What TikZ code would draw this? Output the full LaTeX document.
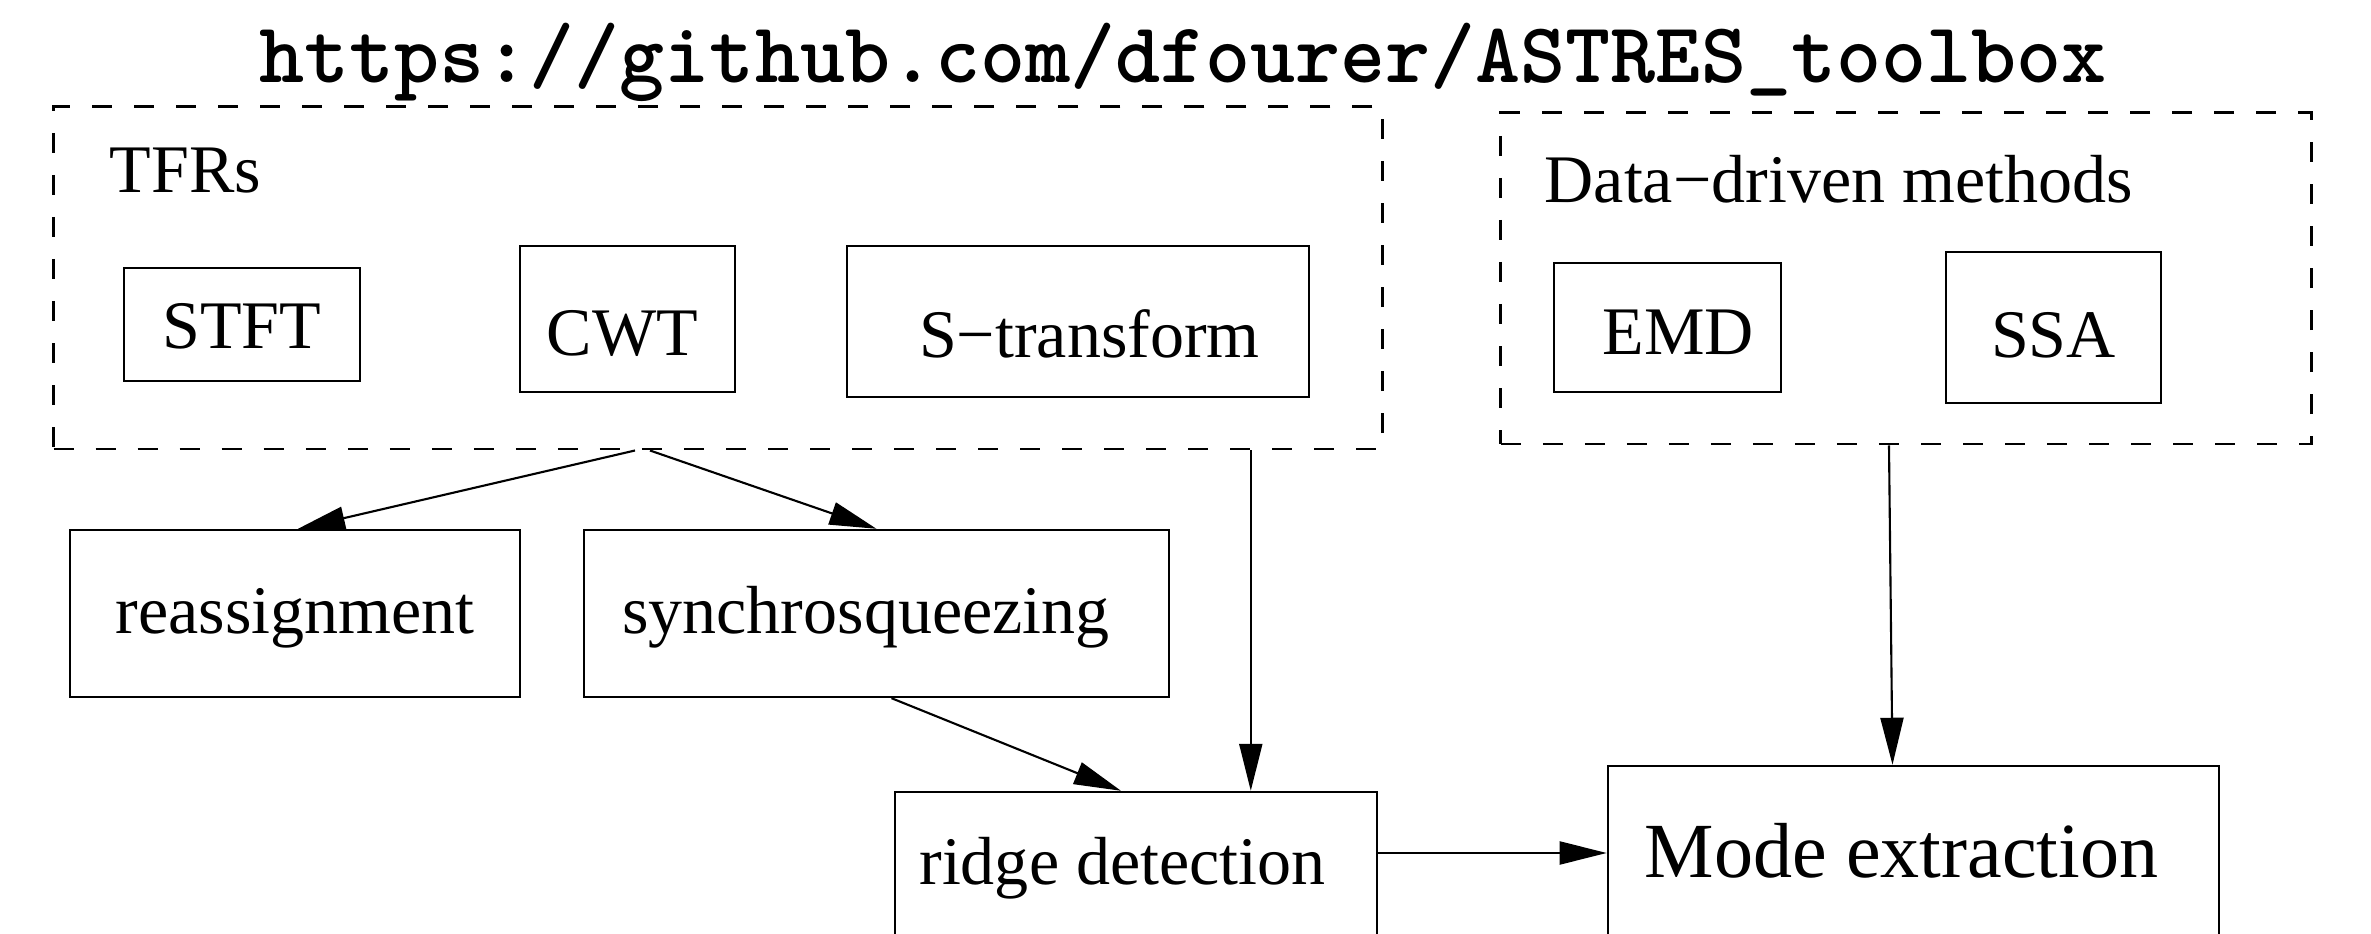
\documentclass[tikz,border=0pt]{standalone}
\usepackage{fontspec}
\setmainfont{Liberation Serif}
\usetikzlibrary{arrows.meta,calc}

\begin{document}
\begin{tikzpicture}[x = 0.01cm, y = -0.01cm]
  % styles
  \tikzstyle{box} = [draw, line width = 0.65pt, inner sep = 0pt, text height = 0.8cm,
    font = \fontsize{19.35pt}{23pt}\selectfont]
  \tikzstyle{group} = [draw, line width = 0.8pt, dash pattern = on 0.2cm off 0.22cm,
    inner sep = 0pt]
  \tikzstyle{grouplabel} = [anchor = base west, inner sep = 0pt,
    font = \fontsize{19.35pt}{23pt}\selectfont]
  \tikzstyle{flow} = [line width = 0.6pt, -{Triangle[length = 0.47cm, width = 0.23cm]}]

  % page
  \useasboundingbox (0, 0) rectangle (2371, 934);
  \clip (0, 0) rectangle (2371, 934);

  % title
  \node[anchor = base, inner sep = 0pt,
    font = \fontsize{24.4pt}{28pt}\selectfont\ttfamily\bfseries] (url) at (1183, 83)
    {https://github.com/dfourer/ASTRES\_toolbox};

  % time-frequency representations
  \node[group, minimum width = 13.28cm, minimum height = 3.42cm] (tfrs) at (718, 278) {};
  \node[grouplabel] (tfrslabel) at (109, 193) {TFRs};
  \node[box, minimum width = 2.36cm, minimum height = 1.13cm, text depth = 0.33cm]
    (stft) at (242, 324.5) {STFT};
  \node[box, minimum width = 2.15cm, minimum height = 1.46cm, text depth = 0.08cm]
    (cwt) at (627.5, 319) {CWT\hspace*{0.1cm}};
  \node[box, minimum width = 4.62cm, minimum height = 1.51cm, text depth = 0.09cm]
    (stransform) at (1078, 321.5) {\hspace*{0.23cm}S−transform};

  % data-driven methods
  \node[group, minimum width = 8.10cm, minimum height = 3.31cm] (data) at (1906, 278.5) {};
  \node[grouplabel] (datalabel) at (1544, 203) {Data−driven methods};
  \node[box, minimum width = 2.27cm, minimum height = 1.29cm, text depth = 0.27cm]
    (emd) at (1667.5, 327.5) {\hspace*{0.22cm}EMD};
  \node[box, minimum width = 2.15cm, minimum height = 1.51cm, text depth = 0.21cm]
    (ssa) at (2053.5, 327.5) {SSA};

  % post-processing
  \node[box, minimum width = 4.50cm, minimum height = 1.67cm, text depth = 0.41cm]
    (reassign) at (295, 613.5) {reassignment};
  \node[box, minimum width = 5.85cm, minimum height = 1.67cm, text depth = 0.41cm]
    (synchro) at (876.5, 613.5) {synchrosqueezing\hspace*{0.21cm}};
  \node[box, minimum width = 4.82cm, minimum height = 2.08cm, text depth = 1.02cm]
    (ridge) at (1136, 896) {ridge detection\hspace*{0.27cm}};
  \node[box, minimum width = 6.11cm, minimum height = 2.34cm, text depth = 0.90cm,
    font = \fontsize{22.2pt}{26pt}\selectfont]
    (mode) at (1913.5, 883) {Mode extraction\hspace*{0.24cm}};

  % connectors
  \coordinate (tfrs-ridge) at ($(tfrs.south east) + (-133, 0)$);
  \coordinate (ridge-out) at ($(ridge.east) + (0, -43)$);
  \draw[flow] ($(tfrs.south) + (-83, 0)$) -- ($(reassign.north) + (3, 0)$);
  \draw[flow] ($(tfrs.south) + (-68, 0)$) -- (synchro.north);
  \draw[flow] ($(synchro.south) + (15, 0)$) -- ($(ridge.north) + (-15, 0)$);
  \draw[flow] (tfrs-ridge) -- (tfrs-ridge |- ridge.north);
  \draw[flow] ($(data.south) + (-17, 0)$) -- ($(mode.north) + (-21, 0)$);
  \draw[flow] (ridge-out) -- (ridge-out -| mode.west);

\end{tikzpicture}
\end{document}
